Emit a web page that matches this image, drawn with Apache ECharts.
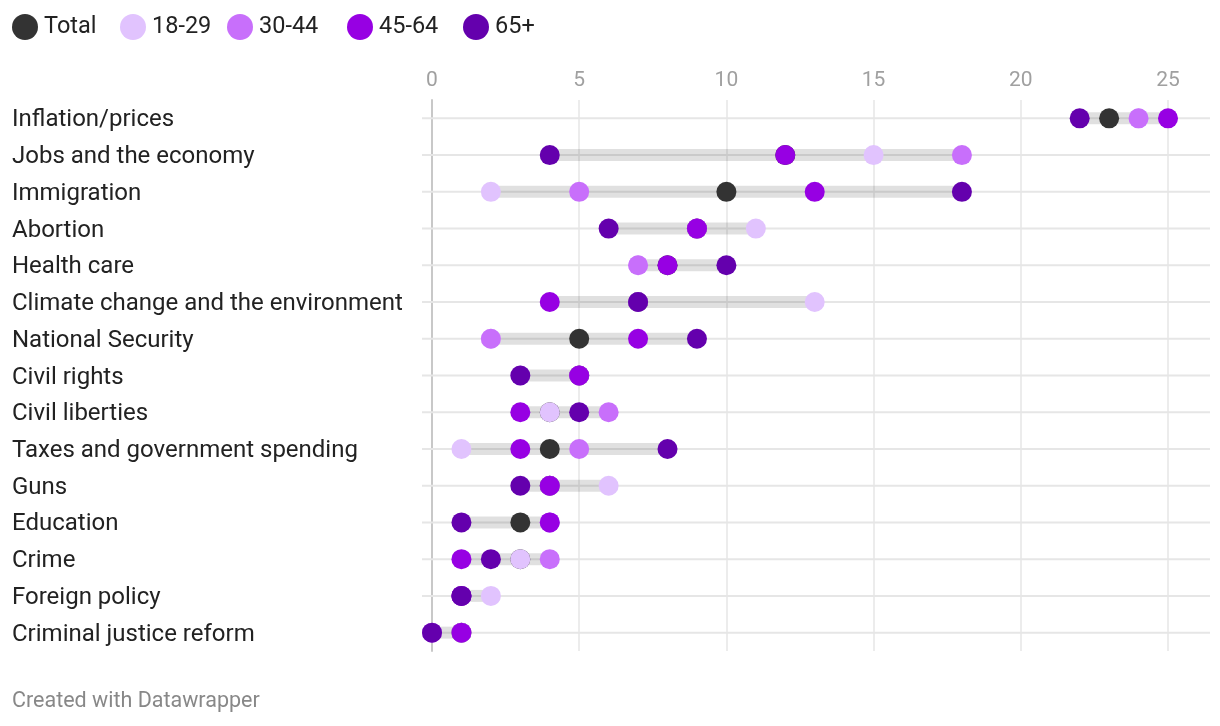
<!DOCTYPE html>
<html>
<head>
<meta charset="utf-8">
<script src="https://cdn.jsdelivr.net/npm/echarts@6/dist/echarts.min.js"></script>
<style>
html,body{margin:0;padding:0;background:#fff;}
#chart{width:1220px;height:726px;}
</style>
</head>
<body>
<div id="chart"></div>
<script>
const categories = ["Inflation/prices","Jobs and the economy","Immigration","Abortion","Health care","Climate change and the environment","National Security","Civil rights","Civil liberties","Taxes and government spending","Guns","Education","Crime","Foreign policy","Criminal justice reform"];
const seriesNames = ["Total","18-29","30-44","45-64","65+"];
const colors = ["#333333","#e1c3fe","#c86ffb","#9700e3","#6400ad"];
const totalVals = [23,12,10,9,8,7,5,5,4,4,4,3,3,1,1];
const age1829   = [24,15,2,11,7,13,2,3,4,1,6,4,3,2,1];
const age3044   = [24,18,5,9,7,7,2,5,6,5,4,4,4,1,0];
const age4564   = [25,12,13,9,8,4,7,5,3,3,4,4,1,1,1];
const age65     = [22,4,18,6,10,7,9,3,5,8,3,1,2,1,0];
const xTicks = [0,5,10,15,20,25];

const allVals = [totalVals, age1829, age3044, age4564, age65];
const ranges = categories.map((c,i)=>{
  const v = allVals.map(a=>a[i]);
  return [i, Math.min(...v), Math.max(...v)];
});

const chart = echarts.init(document.getElementById('chart'), null, {renderer:'canvas'});
const font = 'Roboto, "Noto Sans", sans-serif';

const rowLines = {
  type:'custom', silent:true, z:1, clip:false,
  data: categories.map((c,i)=>[i]),
  encode:{y:0},
  renderItem:(params, api)=>{
    const i = api.value(0);
    const p0 = api.coord([xTicks[0], i]);
    const p1 = api.coord([xTicks[xTicks.length-1], i]);
    return {type:'line', shape:{x1:p0[0]-10, y1:p0[1], x2:p1[0]+42, y2:p1[1]},
      style:{stroke:'#e6e6e6', lineWidth:2}};
  }
};

const rangeBars = {
  type:'custom', silent:true, z:2, clip:false,
  data: ranges,
  encode:{y:0, x:[1,2]},
  renderItem:(params, api)=>{
    const i = api.value(0);
    const a = api.coord([api.value(1), i]);
    const b = api.coord([api.value(2), i]);
    return {type:'rect', shape:{x:a[0], y:a[1]-6, width:b[0]-a[0], height:12},
      style:{fill:'rgba(0,0,0,0.12)'}};
  }
};

const dotSeries = seriesNames.map((n,k)=>({
  name:n, type:'scatter', symbol:'circle', symbolSize:20, z:3+k,
  itemStyle:{color:colors[k], opacity:1},
  data: allVals[k].map((v,i)=>[v,i]),
  emphasis:{disabled:true}
}));

const legendLeft = [12,120,227,347,463];
const legends = seriesNames.map((n,k)=>({
  left:legendLeft[k], top:14, padding:0, icon:'circle', itemWidth:26, itemHeight:26,
  textStyle:{fontSize:23.5, color:'#222', fontFamily:font, padding:[0,0,0,1]},
  data:[n]
}));

chart.setOption({
  animation:false,
  backgroundColor:'#fff',
  textStyle:{fontFamily:font},
  legend: legends,
  grid:{left:432, right:52, top:100, bottom:75, containLabel:false},
  xAxis:{
    type:'value', position:'top', min:0, max:25, interval:5,
    axisLine:{show:false}, axisTick:{show:false},
    axisLabel:{color:'#a0a0a0', fontSize:21, margin:9, fontFamily:font},
    splitLine:{show:true, lineStyle:{color:'#e6e6e6', width:1.5}}
  },
  yAxis:{
    type:'category', data:categories, inverse:true,
    axisLine:{show:true, lineStyle:{color:'#c8c8c8', width:2}},
    axisTick:{show:false},
    axisLabel:{align:'left', margin:420, fontSize:24, color:'#222', fontFamily:font, verticalAlign:'top', lineHeight:4},
    splitLine:{show:false}
  },
  graphic:[{type:'text', left:12, top:691, style:{text:'Created with Datawrapper', fill:'#888', font:'21.5px Roboto, sans-serif'}}],
  series:[rowLines, rangeBars, ...dotSeries]
});
</script>
</body>
</html>
